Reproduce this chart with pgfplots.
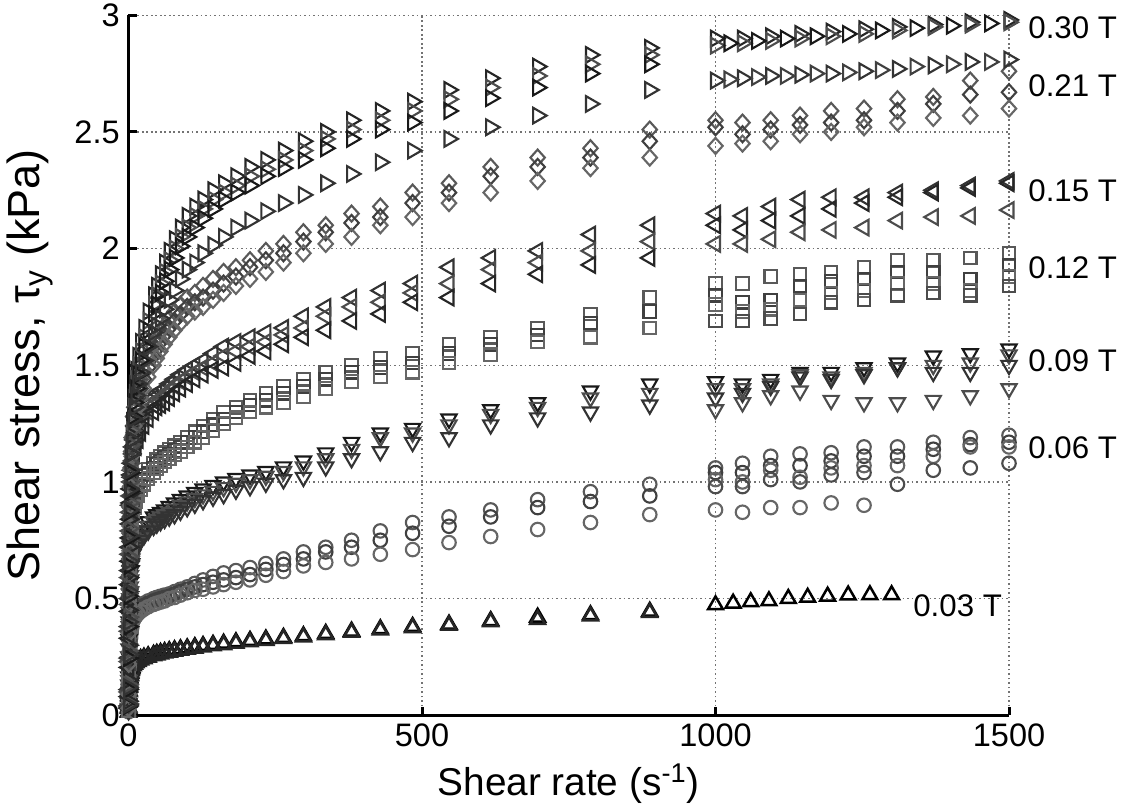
\documentclass[border=0pt]{standalone}
\usepackage{fontspec}
\setmainfont{Liberation Sans}
\usepackage{pgfplots}
\usepackage{pgfplotstable}
\pgfplotsset{compat=1.18}

% ---- first segment: log-spaced shear rates (one table per field) ----
\pgfplotstableread{
r a b
888 0.445 0.44
787 0.43 0.425
697 0.42 0.41
617 0.405 0.40
546 0.39 0.385
484 0.38 0.375
429 0.37 0.365
380 0.36 0.355
336 0.35 0.345
298 0.34 0.335
264 0.333 0.328
234 0.326 0.32
207 0.32 0.314
183 0.314 0.308
162 0.308 0.302
144 0.303 0.297
127 0.298 0.292
113 0.293 0.287
100 0.288 0.282
88.5 0.284 0.278
78.4 0.28 0.274
69.4 0.276 0.27
61.5 0.272 0.266
54.5 0.268 0.262
48.2 0.264 0.258
42.7 0.26 0.254
33.5 0.254 0.248
26.3 0.248 0.242
20.6 0.242 0.236
16.2 0.236 0.23
12.7 0.23 0.224
10 0.224 0.218
7.8 0.218 0.212
5.5 0.205 0.20
4.5 0.196 0.191
3.5 0.185 0.18
2.8 0.173 0.168
2.2 0.16 0.155
1.7 0.142 0.137
1.3 0.125 0.12
1.0 0.105 0.10
0.7 0.085 0.08
0.5 0.06 0.055
0.3 0.035 0.03
0.15 0.015 0.012
}\tA

\pgfplotstableread{
r a b c
888 0.99 0.94 0.86
787 0.958 0.916 0.826
697 0.924 0.89 0.796
617 0.88 0.85 0.766
546 0.85 0.81 0.74
484 0.826 0.78 0.71
429 0.79 0.75 0.69
380 0.75 0.72 0.67
336 0.72 0.70 0.655
298 0.70 0.67 0.64
264 0.67 0.646 0.616
234 0.65 0.625 0.60
207 0.633 0.603 0.58
183 0.62 0.59 0.57
162 0.61 0.58 0.56
144 0.595 0.57 0.55
127 0.58 0.56 0.54
113 0.565 0.55 0.535
100 0.55 0.54 0.525
88.5 0.54 0.53 0.515
78.4 0.53 0.52 0.505
69.4 0.52 0.51 0.50
61.5 0.515 0.505 0.49
54.5 0.51 0.50 0.485
48.2 0.505 0.495 0.48
42.7 0.50 0.49 0.475
33.5 0.49 0.48 0.465
26.3 0.48 0.47 0.455
20.6 0.47 0.46 0.445
16.2 0.46 0.45 0.435
12.7 0.45 0.44 0.425
10 0.44 0.43 0.415
7.8 0.43 0.42 0.405
5.5 0.40 0.39 0.375
4.5 0.38 0.37 0.355
3.5 0.36 0.35 0.335
2.8 0.33 0.32 0.31
2.2 0.30 0.29 0.28
1.7 0.265 0.255 0.245
1.3 0.23 0.22 0.21
1.0 0.19 0.18 0.17
0.7 0.15 0.14 0.13
0.5 0.10 0.093 0.085
0.3 0.05 0.045 0.04
0.15 0.02 0.018 0.015
}\tB

\pgfplotstableread{
r a b c
888 1.42 1.38 1.33
787 1.39 1.36 1.30
697 1.34 1.32 1.275
617 1.31 1.29 1.245
546 1.27 1.245 1.19
484 1.23 1.21 1.17
429 1.21 1.19 1.13
380 1.17 1.14 1.10
336 1.125 1.10 1.065
298 1.09 1.065 1.02
264 1.065 1.045 1.01
234 1.045 1.025 0.995
207 1.03 1.01 0.98
183 1.015 0.995 0.965
162 1.00 0.976 0.946
144 0.985 0.96 0.935
127 0.97 0.945 0.92
113 0.955 0.93 0.905
100 0.94 0.915 0.89
88.5 0.925 0.90 0.875
78.4 0.91 0.885 0.86
69.4 0.895 0.87 0.85
61.5 0.88 0.86 0.84
54.5 0.87 0.85 0.83
48.2 0.86 0.84 0.82
42.7 0.85 0.83 0.81
33.5 0.83 0.81 0.79
26.3 0.81 0.79 0.77
20.6 0.79 0.77 0.75
16.2 0.775 0.755 0.735
12.7 0.76 0.74 0.72
10 0.745 0.725 0.705
7.8 0.73 0.71 0.69
5.5 0.69 0.67 0.65
4.5 0.66 0.64 0.62
3.5 0.62 0.60 0.58
2.8 0.57 0.55 0.53
2.2 0.52 0.50 0.48
1.7 0.46 0.44 0.42
1.3 0.40 0.38 0.36
1.0 0.325 0.305 0.285
0.7 0.25 0.23 0.21
0.5 0.165 0.15 0.13
0.3 0.08 0.07 0.05
0.15 0.03 0.025 0.02
}\tC

\pgfplotstableread{
r a b c
888 1.79 1.73 1.66
787 1.72 1.68 1.62
697 1.66 1.63 1.60
617 1.62 1.59 1.545
546 1.59 1.55 1.51
484 1.55 1.51 1.47
429 1.53 1.49 1.45
380 1.50 1.47 1.43
336 1.47 1.44 1.40
298 1.44 1.41 1.365
264 1.41 1.38 1.34
234 1.38 1.35 1.32
207 1.35 1.33 1.30
183 1.32 1.30 1.275
162 1.30 1.27 1.25
144 1.27 1.245 1.22
127 1.24 1.215 1.19
113 1.215 1.19 1.17
100 1.19 1.17 1.15
88.5 1.17 1.15 1.13
78.4 1.155 1.135 1.115
69.4 1.14 1.12 1.10
61.5 1.125 1.105 1.085
54.5 1.11 1.09 1.07
48.2 1.095 1.075 1.055
42.7 1.08 1.06 1.04
33.5 1.055 1.035 1.015
26.3 1.03 1.01 0.99
20.6 1.005 0.985 0.965
16.2 0.98 0.96 0.94
12.7 0.955 0.935 0.915
10 0.93 0.91 0.89
7.8 0.90 0.88 0.86
5.5 0.84 0.82 0.80
4.5 0.80 0.78 0.76
3.5 0.75 0.73 0.71
2.8 0.69 0.67 0.65
2.2 0.63 0.61 0.59
1.7 0.555 0.535 0.515
1.3 0.48 0.46 0.44
1.0 0.39 0.37 0.35
0.7 0.30 0.28 0.26
0.5 0.195 0.18 0.16
0.3 0.09 0.08 0.06
0.15 0.035 0.03 0.02
}\tD

\pgfplotstableread{
r a b c
888 2.10 2.03 1.96
787 2.06 1.99 1.93
697 1.99 1.94 1.89
617 1.96 1.91 1.85
546 1.92 1.85 1.79
484 1.85 1.81 1.77
429 1.82 1.77 1.72
380 1.79 1.75 1.69
336 1.75 1.71 1.65
298 1.71 1.66 1.62
264 1.66 1.63 1.59
234 1.64 1.60 1.56
207 1.62 1.58 1.54
183 1.60 1.56 1.51
162 1.58 1.54 1.49
144 1.55 1.51 1.48
127 1.52 1.49 1.46
113 1.50 1.47 1.44
100 1.48 1.45 1.42
88.5 1.46 1.43 1.40
78.4 1.44 1.41 1.38
69.4 1.42 1.39 1.36
61.5 1.40 1.37 1.34
54.5 1.39 1.36 1.33
48.2 1.38 1.35 1.32
42.7 1.36 1.33 1.30
33.5 1.33 1.30 1.27
26.3 1.30 1.27 1.24
20.6 1.27 1.24 1.21
16.2 1.24 1.21 1.18
12.7 1.21 1.18 1.15
10 1.18 1.15 1.12
7.8 1.15 1.12 1.09
5.5 1.08 1.05 1.02
4.5 1.03 1.00 0.97
3.5 0.97 0.94 0.91
2.8 0.90 0.87 0.84
2.2 0.82 0.79 0.76
1.7 0.72 0.69 0.66
1.3 0.62 0.59 0.56
1.0 0.50 0.475 0.445
0.7 0.38 0.36 0.33
0.5 0.245 0.23 0.205
0.3 0.11 0.10 0.08
0.15 0.04 0.035 0.03
}\tE

\pgfplotstableread{
r a b c
888 2.51 2.46 2.39
787 2.43 2.39 2.345
697 2.39 2.35 2.29
617 2.35 2.31 2.24
546 2.28 2.24 2.195
484 2.24 2.195 2.135
429 2.18 2.135 2.10
380 2.15 2.11 2.05
336 2.10 2.07 2.02
298 2.07 2.03 1.98
264 2.02 1.98 1.94
234 1.99 1.95 1.90
207 1.95 1.92 1.87
183 1.92 1.88 1.84
162 1.90 1.85 1.81
144 1.87 1.82 1.78
127 1.84 1.79 1.75
113 1.81 1.77 1.73
100 1.79 1.75 1.71
88.5 1.76 1.72 1.68
78.4 1.73 1.69 1.65
69.4 1.70 1.66 1.62
61.5 1.67 1.63 1.59
54.5 1.64 1.60 1.56
48.2 1.61 1.57 1.53
42.7 1.58 1.54 1.50
33.5 1.53 1.49 1.45
26.3 1.48 1.44 1.40
20.6 1.44 1.40 1.36
16.2 1.40 1.36 1.32
12.7 1.36 1.32 1.28
10 1.32 1.28 1.24
7.8 1.28 1.24 1.20
5.5 1.19 1.15 1.11
4.5 1.13 1.09 1.05
3.5 1.06 1.02 0.98
2.8 0.98 0.94 0.90
2.2 0.89 0.85 0.81
1.7 0.78 0.745 0.705
1.3 0.67 0.64 0.60
1.0 0.54 0.51 0.475
0.7 0.41 0.38 0.35
0.5 0.27 0.245 0.22
0.3 0.13 0.11 0.09
0.15 0.05 0.04 0.03
}\tF

\pgfplotstableread{
r a b c d
888 2.86 2.83 2.79 2.68
787 2.83 2.79 2.75 2.62
697 2.78 2.74 2.69 2.57
617 2.73 2.69 2.645 2.52
546 2.68 2.64 2.59 2.47
484 2.63 2.59 2.54 2.42
429 2.59 2.55 2.51 2.37
380 2.55 2.51 2.47 2.32
336 2.50 2.47 2.43 2.28
298 2.46 2.42 2.38 2.23
264 2.42 2.38 2.345 2.195
234 2.38 2.34 2.31 2.16
207 2.35 2.31 2.27 2.12
183 2.31 2.27 2.24 2.09
162 2.28 2.24 2.21 2.05
144 2.25 2.21 2.17 2.015
127 2.21 2.17 2.13 1.98
113 2.18 2.14 2.09 1.94
100 2.14 2.09 2.05 1.91
88.5 2.09 2.05 2.01 1.87
78.4 2.04 2.00 1.96 1.82
69.4 1.99 1.95 1.91 1.78
61.5 1.94 1.90 1.86 1.74
54.5 1.89 1.85 1.81 1.70
48.2 1.84 1.80 1.76 1.67
42.7 1.80 1.76 1.72 1.64
33.5 1.73 1.69 1.65 1.58
26.3 1.66 1.62 1.58 1.52
20.6 1.60 1.56 1.52 1.47
16.2 1.54 1.50 1.46 1.42
12.7 1.48 1.44 1.40 1.37
10 1.42 1.38 1.34 1.32
7.8 1.36 1.32 1.28 1.27
5.5 1.26 1.22 1.18 1.18
4.5 1.20 1.16 1.12 1.12
3.5 1.12 1.08 1.04 1.05
2.8 1.04 1.00 0.96 0.97
2.2 0.95 0.91 0.87 0.88
1.7 0.84 0.80 0.76 0.77
1.3 0.72 0.68 0.64 0.66
1.0 0.59 0.55 0.51 0.53
0.7 0.45 0.42 0.38 0.40
0.5 0.30 0.275 0.245 0.26
0.3 0.15 0.13 0.11 0.12
0.15 0.06 0.05 0.04 0.045
}\tG

% ---- second segment: 1000 to 1500 s^-1 ----
\pgfplotstableread{
r a
1000 0.473
1030 0.48
1060 0.486
1091 0.49
1124 0.50
1157 0.505
1191 0.51
1226 0.515
1263 0.516
1300 0.516
}\sA

\pgfplotstableread{
r a b c d e
1000 1.06 1.04 1.01 0.98 0.88
1046 1.08 1.04 1.00 0.98 0.87
1094 1.11 1.07 1.05 1.01 0.89
1144 1.12 1.07 1.02 1.00 0.89
1197 1.125 1.09 1.06 1.03 0.91
1253 1.15 1.11 1.07 1.04 0.90
1310 1.15 1.11 1.07 0.99 nan
1371 1.17 1.14 1.11 1.05 nan
1434 1.19 1.16 1.15 1.06 nan
1500 1.20 1.17 1.15 1.08 nan
}\sB

\pgfplotstableread{
r a b c d
1000 1.43 1.40 1.36 1.31
1046 1.42 1.40 1.38 1.34
1094 1.44 1.42 1.41 1.37
1144 1.47 1.46 1.45 1.39
1197 1.47 1.45 1.44 1.35
1253 1.49 1.47 1.46 1.34
1310 1.51 1.49 1.49 1.34
1371 1.54 1.50 1.47 1.35
1434 1.55 1.51 1.47 1.37
1500 1.57 1.545 1.50 1.40
}\sC

\pgfplotstableread{
r a b c d
1000 1.85 1.80 1.76 1.69
1046 1.85 1.77 1.73 1.69
1094 1.88 1.78 1.74 1.70
1144 1.89 1.84 1.78 1.72
1197 1.90 1.86 1.81 1.77
1253 1.92 1.87 1.82 1.78
1310 1.95 1.90 1.85 1.80
1371 1.95 1.90 1.85 1.81
1434 1.96 1.87 1.82 1.80
1500 1.98 1.93 1.88 1.84
}\sD

\pgfplotstableread{
r a b c
1000 2.15 2.10 2.02
1046 2.14 2.08 2.02
1094 2.18 2.12 2.04
1144 2.21 2.14 2.07
1197 2.22 2.17 2.08
1253 2.22 2.195 2.09
1310 2.24 2.22 2.12
1371 2.25 2.24 2.135
1434 2.27 2.26 2.14
1500 2.29 2.28 2.165
}\sE

\pgfplotstableread{
r a b c
1000 2.55 2.52 2.44
1046 2.54 2.49 2.45
1094 2.55 2.51 2.46
1144 2.57 2.53 2.49
1197 2.59 2.54 2.50
1253 2.60 2.55 2.52
1310 2.64 2.59 2.54
1371 2.65 2.62 2.56
1434 2.72 2.66 2.57
1500 2.76 2.67 2.60
}\sF

\pgfplotstableread{
r a b d
1000 2.90 2.87 2.72
1046 2.90 2.88 2.73
1094 2.91 2.89 2.74
1144 2.92 2.90 2.745
1197 2.93 2.91 2.75
1253 2.94 2.92 2.76
1310 2.95 2.935 2.77
1371 2.96 2.95 2.785
1434 2.97 2.96 2.80
1500 2.98 2.97 2.81
}\sG

\pgfplotstableread{
r c d
1023 2.88 2.725
1070 2.89 2.735
1119 2.90 2.74
1170 2.91 2.75
1225 2.92 2.755
1281 2.935 2.765
1340 2.945 2.78
1402 2.955 2.79
1467 2.965 2.80
}\sGh

\pgfplotsset{
  pR/.style={only marks, mark=triangle, mark size=3.6pt, mark options={solid, line width=0.85pt, rotate=-90}},
  pL/.style={only marks, mark=triangle, mark size=3.6pt, mark options={solid, line width=0.85pt, rotate=90}},
  pV/.style={only marks, mark=triangle, mark size=3.5pt, mark options={solid, line width=0.85pt, rotate=180}},
  pU/.style={only marks, mark=triangle, mark size=3.4pt, mark options={solid, line width=1pt}},
  pO/.style={only marks, mark=o, mark size=2.7pt, mark options={solid, line width=0.85pt}},
  pS/.style={only marks, mark=square, mark size=2.5pt, mark options={solid, line width=0.85pt}},
  pQ/.style={only marks, mark=diamond, mark size=3.2pt, mark options={solid, line width=0.85pt, xscale=1.2}},
}

\begin{document}
\begin{tikzpicture}
\begin{axis}[
  scale only axis, width=352.2pt, height=280pt,
  xmin=0, xmax=1500, ymin=0, ymax=3,
  xtick={0,500,1000,1500}, ytick={0,0.5,1,1.5,2,2.5,3},
  axis x line=bottom, axis y line=left,
  axis line style={-, line width=1.2pt, black},
  tick align=inside, major tick length=3.5pt,
  tick style={line width=1.2pt, black},
  grid=major,
  major grid style={black!55, line width=0.5pt, dash pattern=on 0.7pt off 1.1pt},
  clip=false,
  /pgf/number format/1000 sep={},
  /pgf/number format/assume math mode=true,
  ticklabel style={font=\fontsize{13}{15}\selectfont},
  xlabel={Shear rate (s\textsuperscript{-1})},
  ylabel={Shear stress, τ\textsubscript{y} (kPa)},
  xlabel style={font=\fontsize{15.5}{18}\selectfont, at={(axis description cs:0.5,-0.098)}, anchor=center},
  ylabel style={font=\fontsize{18}{21}\selectfont, at={(axis description cs:-0.112,0.5)}, anchor=center},
]
% 0.03 T
\addplot[pU, black]    table[x=r, y=a] {\tA};
\addplot[pU, black!85] table[x=r, y=b] {\tA};
\addplot[pU, black]    table[x=r, y=a] {\sA};
% 0.06 T
\addplot[pO, black!65] table[x=r, y=a] {\tB};
\addplot[pO, black!75] table[x=r, y=b] {\tB};
\addplot[pO, black!60] table[x=r, y=c] {\tB};
\addplot[pO, black!65] table[x=r, y=a] {\sB};
\addplot[pO, black!75] table[x=r, y=b] {\sB};
\addplot[pO, black!60] table[x=r, y=c] {\sB};
\addplot[pO, black!70] table[x=r, y=d] {\sB};
\addplot[pO, black!60] table[x=r, y=e] {\sB};
% 0.09 T
\addplot[pV, black!90] table[x=r, y=a] {\tC};
\addplot[pV, black!70] table[x=r, y=b] {\tC};
\addplot[pV, black!80] table[x=r, y=c] {\tC};
\addplot[pV, black!90] table[x=r, y=a] {\sC};
\addplot[pV, black!70] table[x=r, y=b] {\sC};
\addplot[pV, black!80] table[x=r, y=c] {\sC};
\addplot[pV, black!70] table[x=r, y=d] {\sC};
% 0.12 T
\addplot[pS, black!65] table[x=r, y=a] {\tD};
\addplot[pS, black!75] table[x=r, y=b] {\tD};
\addplot[pS, black!60] table[x=r, y=c] {\tD};
\addplot[pS, black!65] table[x=r, y=a] {\sD};
\addplot[pS, black!75] table[x=r, y=b] {\sD};
\addplot[pS, black!60] table[x=r, y=c] {\sD};
\addplot[pS, black!70] table[x=r, y=d] {\sD};
% 0.15 T
\addplot[pL, black!80] table[x=r, y=a] {\tE};
\addplot[pL, black!70] table[x=r, y=b] {\tE};
\addplot[pL, black!85] table[x=r, y=c] {\tE};
\addplot[pL, black!80] table[x=r, y=a] {\sE};
\addplot[pL, black!85] table[x=r, y=b] {\sE};
\addplot[pL, black!70] table[x=r, y=c] {\sE};
% 0.21 T
\addplot[pQ, black!65] table[x=r, y=a] {\tF};
\addplot[pQ, black!75] table[x=r, y=b] {\tF};
\addplot[pQ, black!60] table[x=r, y=c] {\tF};
\addplot[pQ, black!65] table[x=r, y=a] {\sF};
\addplot[pQ, black!75] table[x=r, y=b] {\sF};
\addplot[pQ, black!60] table[x=r, y=c] {\sF};
% 0.30 T
\addplot[pR, black!85] table[x=r, y=a] {\tG};
\addplot[pR, black!70] table[x=r, y=b] {\tG};
\addplot[pR, black!90] table[x=r, y=c] {\tG};
\addplot[pR, black!80] table[x=r, y=d] {\tG};
\addplot[pR, black!85] table[x=r, y=a] {\sG};
\addplot[pR, black!70] table[x=r, y=b] {\sG};
\addplot[pR, black!80] table[x=r, y=d] {\sG};
\addplot[pR, black!90] table[x=r, y=c] {\sGh};
\addplot[pR, black!75] table[x=r, y=d] {\sGh};
% field labels
\begin{scope}[every node/.style={anchor=west, font=\fontsize{12.5}{14}\selectfont}]
\node at (axis cs:1518,2.946) {0.30 T};
\node at (axis cs:1518,2.70) {0.21 T};
\node at (axis cs:1518,2.25) {0.15 T};
\node at (axis cs:1518,1.92) {0.12 T};
\node at (axis cs:1518,1.52) {0.09 T};
\node at (axis cs:1518,1.146) {0.06 T};
\node at (axis cs:1322,0.469) {0.03 T};
\end{scope}
\end{axis}
\pgfresetboundingbox
\path ([xshift=-51.4pt,yshift=-37.8pt]current axis.south west) rectangle ([xshift=44.8pt,yshift=6.1pt]current axis.north east);
\end{tikzpicture}
\end{document}
